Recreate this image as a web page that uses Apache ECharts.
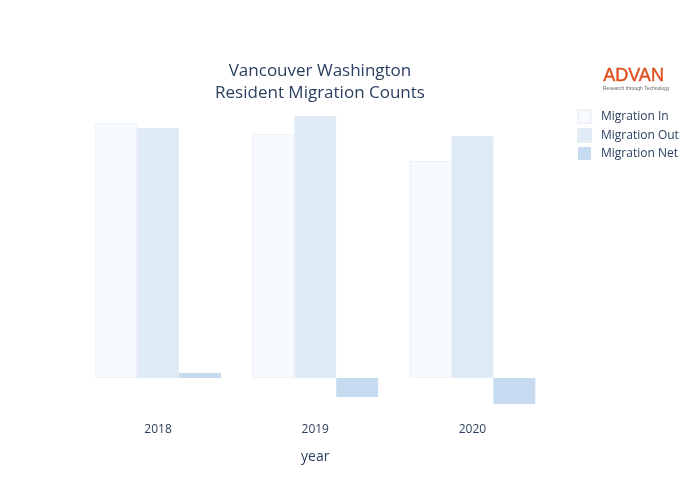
<!DOCTYPE html>
<html><head><meta charset="utf-8">
<script src="https://cdn.jsdelivr.net/npm/echarts@6/dist/echarts.min.js"></script>
<style>body{margin:0}#c{width:700px;height:500px}</style></head>
<body><div id="c"></div>
<script>
const categories = ['2018','2019','2020'];
const migrationIn = [25500, 24400, 21700];
const migrationOut = [25000, 26200, 24200];
const migrationNet = [500, -1900, -2600];
const chart = echarts.init(document.getElementById('c'));
const font = '"Open Sans", sans-serif';
chart.setOption({
  animation:false,
  title:{text:'Vancouver Washington\nResident Migration Counts',left:315,top:55,textAlign:'center',
    textStyle:{fontFamily:font,fontSize:17,fontWeight:'normal',color:'#2a3f5f',lineHeight:22}},
  graphic:[
    {type:'text',left:603,top:67,style:{text:'ADVAN',font:'18px Arial',fill:'#e0501e',stroke:'#e0501e',lineWidth:0.4}},
    {type:'text',left:603,top:86,style:{text:'Research through Technology',font:'5px Arial',fill:'#666'}}
  ],
  legend:{left:572,top:104,orient:'vertical',itemWidth:13,itemHeight:13,itemGap:4,icon:'rect',
    textStyle:{fontFamily:font,fontSize:12,color:'#2a3f5f',padding:[0,0,0,5]}},
  grid:{left:79.5,right:149,top:110,bottom:90},
  xAxis:{type:'category',data:categories,axisLine:{show:false},axisTick:{show:false},
    axisLabel:{fontFamily:font,fontSize:12,color:'#2a3f5f',margin:14},
    name:'year',nameLocation:'middle',nameGap:40,nameTextStyle:{fontFamily:font,fontSize:14,color:'#2a3f5f'}},
  yAxis:{type:'value',min:-3200,max:26800,show:false,splitLine:{show:false}},
  series:[
    {name:'Migration In',type:'bar',data:migrationIn,barGap:'0%',barCategoryGap:'20%',itemStyle:{color:'#f7fbff',borderColor:'#eef2f7',borderWidth:1}},
    {name:'Migration Out',type:'bar',data:migrationOut,itemStyle:{color:'#deebf7',borderColor:'#e4ecf5',borderWidth:1}},
    {name:'Migration Net',type:'bar',data:migrationNet,itemStyle:{color:'#c6dbef'}}
  ]
});
</script></body></html>
